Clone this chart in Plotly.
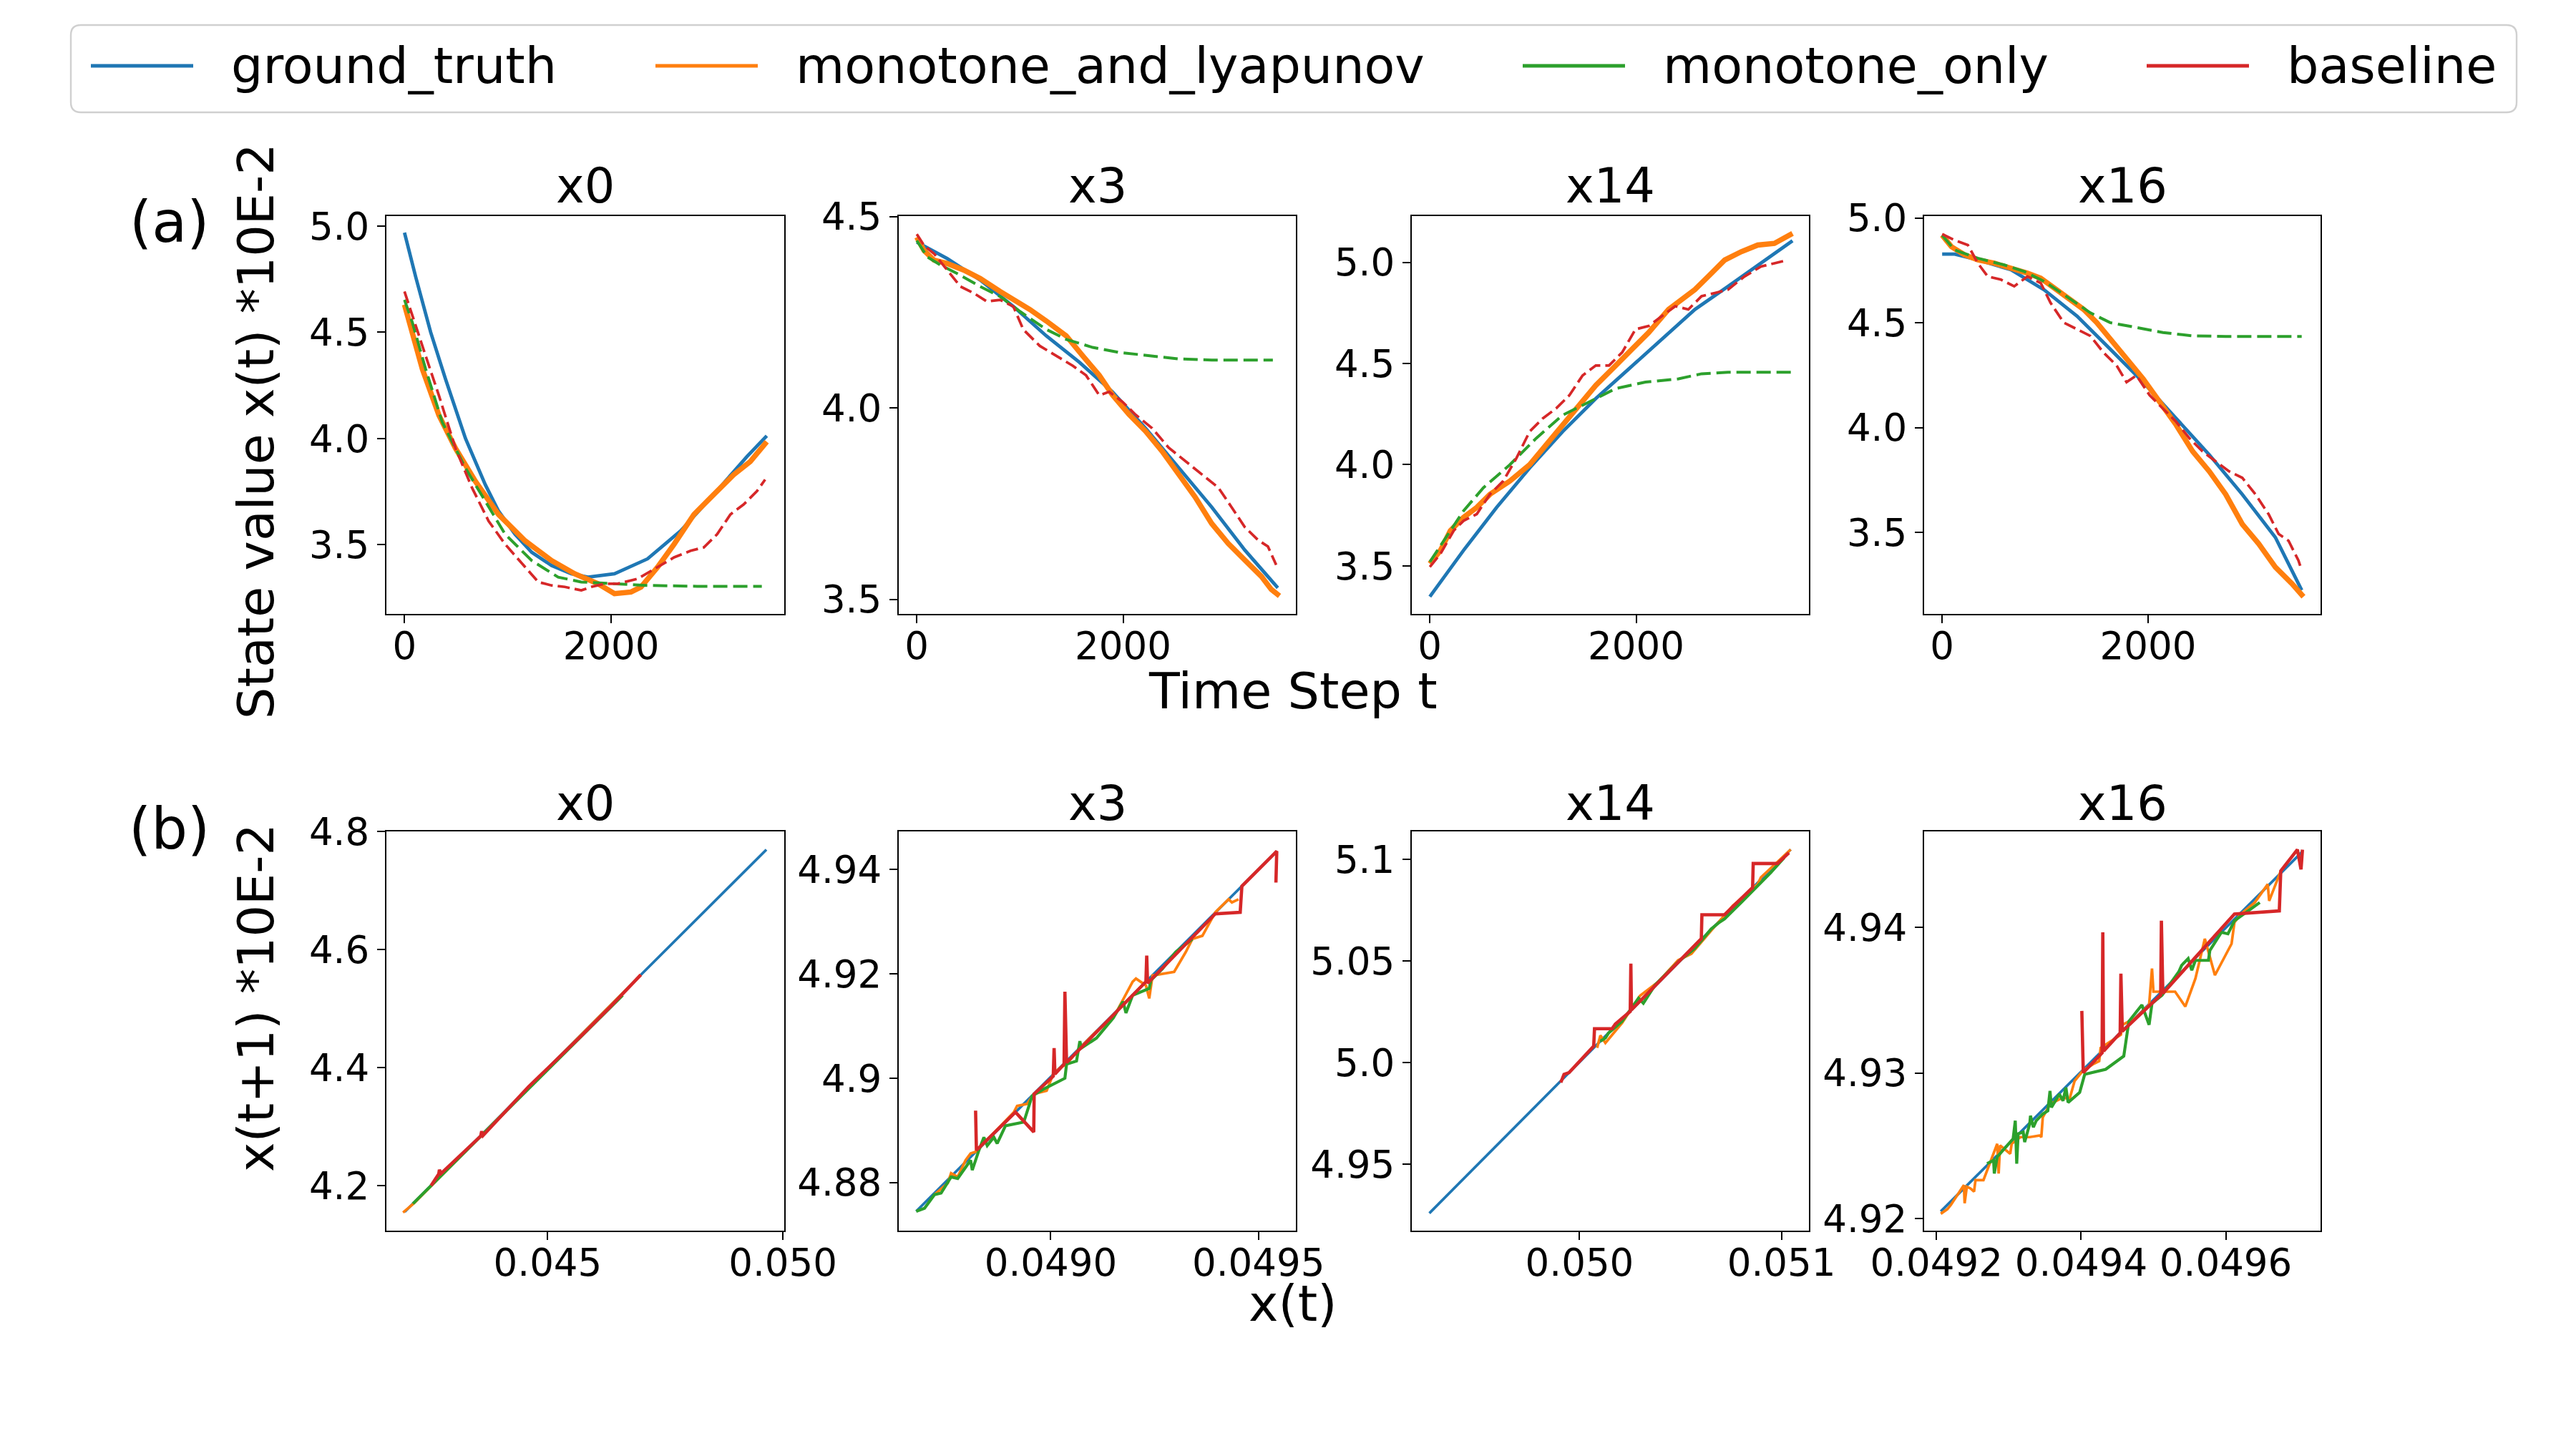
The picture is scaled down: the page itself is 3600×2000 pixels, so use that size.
import plotly.graph_objects as go

W, H = 3600, 2000

NAMES = ["ground_truth", "monotone_and_lyapunov", "monotone_only", "baseline"]
COLORS = ["#1f77b4", "#ff7f0e", "#2ca02c", "#d62728"]
PANELS = ["x0", "x3", "x14", "x16"]

# ---------------- (a) state value x(t) (*1e-2) against time step t ----------------
t_x0_truth = [0, 109, 253, 397, 590, 782, 910, 1070, 1231, 1423, 1615, 1776, 2032, 2352, 2673, 2993, 3314, 3506]
v_x0_truth = [4.969, 4.760, 4.501, 4.280, 4.001, 3.783, 3.659, 3.550, 3.465, 3.403, 3.364, 3.348, 3.364, 3.434, 3.566, 3.737, 3.915, 4.013]
t_x0_lyap = [0, 45, 173, 333, 494, 686, 910, 1167, 1423, 1647, 1872, 2032, 2192, 2288, 2449, 2609, 2801, 2993, 3186, 3346, 3506]
v_x0_lyap = [4.630, 4.545, 4.327, 4.110, 3.954, 3.799, 3.643, 3.519, 3.426, 3.364, 3.317, 3.270, 3.278, 3.301, 3.395, 3.503, 3.643, 3.737, 3.830, 3.892, 3.985]
t_x0_mono = [0, 77, 205, 365, 590, 782, 974, 1231, 1487, 1711, 2032, 2352, 2833, 3458]
v_x0_mono = [4.653, 4.545, 4.327, 4.078, 3.861, 3.706, 3.550, 3.426, 3.348, 3.325, 3.317, 3.309, 3.305, 3.305]
t_x0_base = [0, 77, 205, 333, 494, 654, 814, 974, 1167, 1295, 1423, 1551, 1711, 1808, 1936, 2064, 2256, 2449, 2609, 2769, 2897, 3026, 3154, 3282, 3410, 3490]
v_x0_base = [4.692, 4.576, 4.389, 4.203, 3.954, 3.768, 3.612, 3.503, 3.395, 3.325, 3.309, 3.302, 3.286, 3.302, 3.317, 3.317, 3.340, 3.395, 3.441, 3.472, 3.488, 3.550, 3.643, 3.690, 3.752, 3.807]

t_x3_truth = [0, 295, 615, 936, 1256, 1577, 1897, 2218, 2538, 2859, 3179, 3500]
v_x3_truth = [4.433, 4.390, 4.334, 4.265, 4.188, 4.119, 4.042, 3.947, 3.844, 3.741, 3.629, 3.530]
t_x3_lyap = [0, 71, 167, 295, 455, 615, 808, 968, 1096, 1256, 1449, 1609, 1769, 1897, 2058, 2218, 2378, 2538, 2699, 2859, 3019, 3179, 3340, 3436, 3516]
v_x3_lyap = [4.446, 4.411, 4.386, 4.377, 4.360, 4.338, 4.304, 4.278, 4.257, 4.227, 4.188, 4.136, 4.085, 4.034, 3.983, 3.939, 3.887, 3.827, 3.767, 3.698, 3.646, 3.603, 3.560, 3.526, 3.509]
t_x3_mono = [0, 103, 231, 391, 615, 808, 1000, 1256, 1449, 1705, 1961, 2218, 2538, 2859, 3452]
v_x3_mono = [4.437, 4.394, 4.373, 4.351, 4.317, 4.291, 4.252, 4.205, 4.179, 4.158, 4.145, 4.138, 4.128, 4.125, 4.125]
t_x3_base = [0, 71, 167, 295, 423, 551, 679, 808, 936, 1032, 1192, 1353, 1513, 1641, 1769, 1865, 1994, 2122, 2282, 2442, 2602, 2763, 2923, 3051, 3179, 3308, 3404, 3484]
v_x3_base = [4.454, 4.424, 4.403, 4.360, 4.317, 4.300, 4.278, 4.282, 4.265, 4.205, 4.162, 4.136, 4.110, 4.085, 4.033, 4.042, 4.016, 3.982, 3.947, 3.896, 3.861, 3.827, 3.792, 3.741, 3.689, 3.655, 3.638, 3.590]

t_x14_truth = [0, 327, 647, 968, 1288, 1609, 1929, 2250, 2570, 2891, 3211, 3516]
v_x14_truth = [3.348, 3.577, 3.789, 3.984, 4.164, 4.327, 4.473, 4.620, 4.767, 4.881, 4.995, 5.106]
t_x14_lyap = [0, 103, 199, 327, 455, 583, 776, 968, 1128, 1288, 1449, 1609, 1769, 1929, 2122, 2314, 2442, 2570, 2699, 2859, 3019, 3179, 3340, 3516]
v_x14_lyap = [3.511, 3.577, 3.674, 3.740, 3.789, 3.854, 3.919, 4.000, 4.098, 4.196, 4.294, 4.392, 4.473, 4.555, 4.653, 4.767, 4.816, 4.865, 4.930, 5.011, 5.052, 5.085, 5.093, 5.142]
t_x14_mono = [0, 135, 327, 519, 776, 1032, 1288, 1545, 1801, 2090, 2410, 2634, 2891, 3500]
v_x14_mono = [3.520, 3.625, 3.772, 3.886, 4.000, 4.131, 4.245, 4.310, 4.376, 4.408, 4.424, 4.449, 4.457, 4.457]
t_x14_base = [0, 103, 231, 327, 455, 583, 711, 840, 968, 1096, 1224, 1353, 1481, 1609, 1737, 1865, 1994, 2122, 2250, 2378, 2506, 2634, 2763, 2891, 3051, 3211, 3340, 3468]
v_x14_base = [3.495, 3.560, 3.674, 3.723, 3.756, 3.854, 3.919, 4.033, 4.164, 4.229, 4.278, 4.343, 4.441, 4.490, 4.490, 4.555, 4.669, 4.685, 4.734, 4.783, 4.767, 4.832, 4.848, 4.865, 4.930, 4.979, 4.995, 5.011]

t_x16_truth = [0, 122, 347, 668, 989, 1310, 1631, 1952, 2273, 2594, 2915, 3236, 3492]
v_x16_truth = [4.828, 4.828, 4.800, 4.753, 4.658, 4.532, 4.375, 4.217, 4.044, 3.871, 3.682, 3.477, 3.225]
t_x16_lyap = [0, 90, 218, 347, 507, 668, 828, 957, 1117, 1245, 1374, 1502, 1631, 1791, 1952, 2112, 2273, 2433, 2594, 2754, 2915, 3075, 3236, 3396, 3509]
v_x16_lyap = [4.918, 4.863, 4.824, 4.800, 4.784, 4.761, 4.737, 4.713, 4.658, 4.611, 4.564, 4.501, 4.422, 4.328, 4.233, 4.123, 4.013, 3.887, 3.792, 3.682, 3.540, 3.446, 3.335, 3.257, 3.194]
t_x16_mono = [0, 122, 347, 603, 796, 989, 1181, 1438, 1631, 1887, 2144, 2433, 2754, 3492]
v_x16_mono = [4.918, 4.847, 4.808, 4.776, 4.745, 4.698, 4.635, 4.548, 4.501, 4.477, 4.454, 4.438, 4.435, 4.435]
t_x16_base = [0, 122, 250, 347, 443, 571, 700, 828, 957, 1053, 1181, 1310, 1438, 1566, 1695, 1791, 1887, 2016, 2144, 2273, 2401, 2529, 2658, 2786, 2915, 3043, 3171, 3268, 3364, 3460, 3492]
v_x16_base = [4.923, 4.894, 4.871, 4.784, 4.721, 4.706, 4.674, 4.721, 4.690, 4.595, 4.501, 4.469, 4.438, 4.359, 4.296, 4.217, 4.249, 4.154, 4.091, 4.028, 3.950, 3.887, 3.839, 3.792, 3.761, 3.682, 3.587, 3.493, 3.461, 3.367, 3.320]

# ---------------- (b) x(t+1) (*1e-2) against x(t) ----------------
p_x0_truth = [0.04196, 0.04698, 0.04965]
q_x0_truth = [4.1554, 4.5572, 4.7693]
p_x0_lyap = [0.041924, 0.04217, 0.04698]
q_x0_lyap = [4.1543, 4.1710, 4.5572]
p_x0_mono = [0.042135, 0.042521, 0.043575, 0.045506, 0.046594]
q_x0_mono = [4.1694, 4.2000, 4.2838, 4.4372, 4.5226]
p_x0_base = [0.042521, 0.042683, 0.042697, 0.042732, 0.043575, 0.043596, 0.043624, 0.044593, 0.045716, 0.046313, 0.04698]
q_x0_base = [4.2000, 4.2196, 4.2268, 4.2205, 4.2838, 4.2921, 4.2849, 4.3675, 4.4540, 4.5014, 4.5572]

p_x3_truth = [0.048676, 0.049544]
q_x3_truth = [4.8745, 4.9435]
p_x3_lyap = [0.048720, 0.048752, 0.048760, 0.048776, 0.048795, 0.048807, 0.048819, 0.048911, 0.048919, 0.048943, 0.048959,
             0.048990, 0.049006, 0.049022, 0.049038, 0.049070, 0.049110, 0.049150, 0.049197, 0.049205, 0.049229, 0.049237,
             0.049245, 0.049297, 0.049325, 0.049341, 0.049365, 0.049396, 0.049428, 0.049436, 0.049452]
q_x3_lyap = [4.8777, 4.8799, 4.8818, 4.8811, 4.8843, 4.8856, 4.8859, 4.8935, 4.8947, 4.8951, 4.8970,
             4.8976, 4.9008, 4.9020, 4.9027, 4.9058, 4.9090, 4.9115, 4.9185, 4.9191, 4.9178, 4.9153,
             4.9197, 4.9204, 4.9242, 4.9267, 4.9273, 4.9318, 4.9343, 4.9337, 4.9343]
p_x3_mono = [0.048676, 0.048696, 0.048720, 0.048736, 0.048760, 0.048776, 0.048807, 0.048811, 0.048827, 0.048839, 0.048847,
             0.048863, 0.048871, 0.048891, 0.048935, 0.048955, 0.048982, 0.049034, 0.049038, 0.049062, 0.049070, 0.049074,
             0.049110, 0.049150, 0.049174, 0.049181, 0.049197, 0.049237, 0.049241, 0.049269, 0.049301, 0.049341]
q_x3_mono = [4.8745, 4.8751, 4.8777, 4.8780, 4.8811, 4.8808, 4.8843, 4.8824, 4.8862, 4.8887, 4.8871,
             4.8887, 4.8875, 4.8909, 4.8916, 4.8966, 4.8979, 4.9000, 4.9027, 4.9033, 4.9071, 4.9058,
             4.9077, 4.9115, 4.9147, 4.9125, 4.9159, 4.9172, 4.9188, 4.9210, 4.9242, 4.9267]
p_x3_base = [0.048819, 0.048821, 0.048915, 0.048959, 0.048960, 0.049006, 0.049008, 0.049010, 0.049032, 0.049034,
             0.049038, 0.049229, 0.049231, 0.049233, 0.049396, 0.049456, 0.049460, 0.049544, 0.049542]
q_x3_base = [4.8938, 4.8862, 4.8935, 4.8897, 4.8970, 4.9004, 4.9058, 4.9008, 4.9027, 4.9166,
             4.9030, 4.9185, 4.9235, 4.9182, 4.9315, 4.9318, 4.9368, 4.9435, 4.9375]

p_x14_truth = [0.049256, 0.049907, 0.051046]
q_x14_truth = [4.9259, 4.9910, 5.1049]
p_x14_lyap = [0.050087, 0.050103, 0.050128, 0.050210, 0.050300, 0.050390, 0.050488, 0.050554, 0.050652, 0.050759,
              0.050882, 0.050898, 0.051046]
q_x14_lyap = [5.0073, 5.0134, 5.0097, 5.0195, 5.0330, 5.0398, 5.0504, 5.0536, 5.0650, 5.0772,
              5.0878, 5.0911, 5.1049]
p_x14_mono = [0.050103, 0.050128, 0.050144, 0.050210, 0.050292, 0.050316, 0.050374, 0.050488, 0.050570, 0.050652,
              0.050693, 0.050718, 0.050800, 0.050882, 0.050898, 0.050947, 0.051013]
q_x14_mono = [5.0105, 5.0121, 5.0146, 5.0203, 5.0317, 5.0292, 5.0382, 5.0496, 5.0561, 5.0658,
              5.0691, 5.0707, 5.0788, 5.0870, 5.0886, 5.0935, 5.1008]
p_x14_base = [0.049907, 0.049923, 0.049948, 0.050021, 0.050070, 0.050074, 0.050161, 0.050177, 0.050251, 0.050254,
              0.050257, 0.050603, 0.050606, 0.050718, 0.050857, 0.050860, 0.050980, 0.051037]
q_x14_base = [4.9902, 4.9942, 4.9951, 5.0032, 5.0081, 5.0167, 5.0167, 5.0190, 5.0252, 5.0487,
              5.0260, 5.0610, 5.0728, 5.0728, 5.0862, 5.0980, 5.0980, 5.1033]

p_x16_truth = [0.049206, 0.049706]
q_x16_truth = [4.9205, 4.9452]
p_x16_lyap = [0.049206, 0.049215, 0.049220, 0.049238, 0.049239, 0.049242, 0.049247, 0.049252, 0.049254, 0.049265,
              0.049284, 0.049286, 0.049288, 0.049302, 0.049304, 0.049316, 0.049329, 0.049343, 0.049345, 0.049347,
              0.049357, 0.049366, 0.049375, 0.049384, 0.049391, 0.049402, 0.049416, 0.049425, 0.049427, 0.049448,
              0.049455, 0.049457, 0.049475, 0.049494, 0.049498, 0.049500, 0.049512, 0.049530, 0.049544, 0.049558,
              0.049571, 0.049576, 0.049585, 0.049608, 0.049612, 0.049621, 0.049640, 0.049658, 0.049660, 0.049676]
q_x16_lyap = [4.92034, 4.92065, 4.92095, 4.92231, 4.92106, 4.92220, 4.92208, 4.92186, 4.92265, 4.92265,
              4.92514, 4.92310, 4.92503, 4.92446, 4.92514, 4.92560, 4.92560, 4.92571, 4.92560, 4.92696,
              4.92787, 4.92809, 4.92832, 4.92821, 4.92945, 4.93013, 4.93059, 4.93081, 4.93172, 4.93240,
              4.93263, 4.93331, 4.93376, 4.93467, 4.93717, 4.93558, 4.93558, 4.93558, 4.93456, 4.93648,
              4.93921, 4.93830, 4.93671, 4.93887, 4.94034, 4.94091, 4.94170, 4.94295, 4.94181, 4.94386]
p_x16_mono = [0.049270, 0.049279, 0.049280, 0.049284, 0.049306, 0.049309, 0.049311, 0.049313, 0.049320, 0.049322,
              0.049329, 0.049330, 0.049334, 0.049338, 0.049347, 0.049354, 0.049357, 0.049359, 0.049370, 0.049375,
              0.049379, 0.049382, 0.049398, 0.049405, 0.049434, 0.049459, 0.049466, 0.049484, 0.049494, 0.049498,
              0.049512, 0.049535, 0.049539, 0.049548, 0.049553, 0.049558, 0.049576, 0.049578, 0.049594, 0.049603,
              0.049612, 0.049647]
q_x16_mono = [4.92378, 4.92401, 4.92310, 4.92424, 4.92548, 4.92673, 4.92378, 4.92583, 4.92594, 4.92526,
              4.92651, 4.92707, 4.92628, 4.92673, 4.92719, 4.92741, 4.92877, 4.92764, 4.92855, 4.92809,
              4.92900, 4.92798, 4.92866, 4.92991, 4.93025, 4.93116, 4.93354, 4.93467, 4.93331, 4.93478,
              4.93535, 4.93694, 4.93739, 4.93785, 4.93705, 4.93773, 4.93773, 4.93841, 4.93966, 4.93955,
              4.94045, 4.94170]
p_x16_base = [0.049401, 0.049403, 0.049429, 0.049430, 0.049431, 0.049454, 0.049455, 0.049457, 0.049510, 0.049511,
              0.049513, 0.049612, 0.049674, 0.049676, 0.049699, 0.049704, 0.049706]
q_x16_base = [4.93426, 4.93002, 4.93138, 4.93966, 4.93150, 4.93274, 4.93682, 4.93286, 4.93535, 4.94045,
              4.93546, 4.94091, 4.94113, 4.94386, 4.94533, 4.94397, 4.94533]

# tick labels (as matplotlib printed them)
a_ytick_vals = [[3.5, 4.0, 4.5, 5.0], [3.5, 4.0, 4.5], [3.5, 4.0, 4.5, 5.0], [3.5, 4.0, 4.5, 5.0]]
a_xtick_vals = [0, 2000]
b_xtick_vals = [[0.045, 0.050], [0.0490, 0.0495], [0.050, 0.051], [0.0492, 0.0494, 0.0496]]
b_xtick_text = [["0.045", "0.050"], ["0.0490", "0.0495"], ["0.050", "0.051"], ["0.0492", "0.0494", "0.0496"]]
b_ytick_vals = [[4.2, 4.4, 4.6, 4.8], [4.88, 4.90, 4.92, 4.94], [4.95, 5.0, 5.05, 5.1], [4.92, 4.93, 4.94]]
b_ytick_text = [["4.2", "4.4", "4.6", "4.8"], ["4.88", "4.9", "4.92", "4.94"], ["4.95", "5.0", "5.05", "5.1"], ["4.92", "4.93", "4.94"]]

row_a = [
    [(t_x0_truth, v_x0_truth), (t_x0_lyap, v_x0_lyap), (t_x0_mono, v_x0_mono), (t_x0_base, v_x0_base)],
    [(t_x3_truth, v_x3_truth), (t_x3_lyap, v_x3_lyap), (t_x3_mono, v_x3_mono), (t_x3_base, v_x3_base)],
    [(t_x14_truth, v_x14_truth), (t_x14_lyap, v_x14_lyap), (t_x14_mono, v_x14_mono), (t_x14_base, v_x14_base)],
    [(t_x16_truth, v_x16_truth), (t_x16_lyap, v_x16_lyap), (t_x16_mono, v_x16_mono), (t_x16_base, v_x16_base)],
]
row_b = [
    [(p_x0_truth, q_x0_truth), (p_x0_lyap, q_x0_lyap), (p_x0_mono, q_x0_mono), (p_x0_base, q_x0_base)],
    [(p_x3_truth, q_x3_truth), (p_x3_lyap, q_x3_lyap), (p_x3_mono, q_x3_mono), (p_x3_base, q_x3_base)],
    [(p_x14_truth, q_x14_truth), (p_x14_lyap, q_x14_lyap), (p_x14_mono, q_x14_mono), (p_x14_base, q_x14_base)],
    [(p_x16_truth, q_x16_truth), (p_x16_lyap, q_x16_lyap), (p_x16_mono, q_x16_mono), (p_x16_base, q_x16_base)],
]

# layout in pixels of the 3600x2000 screenshot
COLS = [(540, 1096), (1256, 1811), (1973, 2528), (2689, 3243)]
ROW_A = (302, 858)
ROW_B = (1162, 1720)
a_xrange = [-175, 3675]
a_yranges = [[3.175, 5.047], [3.462, 4.501], [3.263, 5.228], [3.112, 5.009]]
b_xranges = [[0.04157, 0.05003], [0.048634, 0.04959], [0.049169, 0.051136], [0.049183, 0.049731]]
b_yranges = [[4.1236, 4.8003], [4.8708, 4.9473], [4.9173, 5.1138], [4.91918, 4.94658]]

a_widths = [4.8, 7.4, 4.0, 3.7]
a_dashes = ["solid", "solid", "20px,8px", "17px,7px"]
b_widths = [3.7, 3.7, 4.2, 4.6]

FONT = "DejaVu Sans"
TICK_SIZE = 53
TITLE_SIZE = 67
LABEL_SIZE = 70

PAGE_PAD = 8  # the page body margin shifts the figure by this many pixels


def fx(p):
    return (p - PAGE_PAD) / W


def fy(p):
    return 1 - (p - PAGE_PAD) / H


fig = go.Figure()

for i in range(4):
    for k in range(4):
        xs, ys = row_a[i][k]
        fig.add_trace(go.Scatter(
            x=xs, y=ys, mode="lines", name=NAMES[k], showlegend=False,
            line=dict(color=COLORS[k], width=a_widths[k], dash=a_dashes[k]),
            xaxis="x" if i == 0 else "x%d" % (i + 1),
            yaxis="y" if i == 0 else "y%d" % (i + 1),
        ))
    for k in range(4):
        xs, ys = row_b[i][k]
        fig.add_trace(go.Scatter(
            x=xs, y=ys, mode="lines", name=NAMES[k], showlegend=False,
            line=dict(color=COLORS[k], width=b_widths[k]),
            xaxis="x%d" % (i + 5), yaxis="y%d" % (i + 5),
        ))

axis_common = dict(
    showgrid=False, zeroline=False, showline=True, mirror=True, automargin=False,
    linecolor="black", linewidth=2.4, ticks="outside", ticklen=11,
    tickwidth=2.4, tickcolor="black",
    tickfont=dict(family=FONT, size=TICK_SIZE, color="black"),
)
x_common = dict(axis_common, ticklabelstandoff=-14)

layout_axes = {}
annotations = []
for i in range(4):
    c0, c1 = COLS[i]
    na, nb = i + 1, i + 5
    xa = "xaxis" if na == 1 else "xaxis%d" % na
    ya = "yaxis" if na == 1 else "yaxis%d" % na
    layout_axes[xa] = dict(x_common, domain=[fx(c0), fx(c1)], range=a_xrange,
                           tickvals=a_xtick_vals, ticktext=[str(v) for v in a_xtick_vals],
                           anchor="y" if na == 1 else "y%d" % na)
    layout_axes[ya] = dict(axis_common, domain=[fy(ROW_A[1]), fy(ROW_A[0])], range=a_yranges[i],
                           tickvals=a_ytick_vals[i], ticktext=["%.1f" % v for v in a_ytick_vals[i]],
                           anchor="x" if na == 1 else "x%d" % na)
    layout_axes["xaxis%d" % nb] = dict(x_common, domain=[fx(c0), fx(c1)], range=b_xranges[i],
                                       tickvals=b_xtick_vals[i], ticktext=b_xtick_text[i],
                                       anchor="y%d" % nb)
    layout_axes["yaxis%d" % nb] = dict(axis_common, domain=[fy(ROW_B[1]), fy(ROW_B[0])], range=b_yranges[i],
                                       tickvals=b_ytick_vals[i], ticktext=b_ytick_text[i],
                                       anchor="x%d" % nb)
    # panel titles
    for yc in (260, 1123):
        annotations.append(dict(
            text=PANELS[i], x=fx((c0 + c1) / 2), y=fy(yc), xref="paper", yref="paper",
            xanchor="center", yanchor="middle", showarrow=False,
            font=dict(family=FONT, size=TITLE_SIZE, color="black"),
        ))

# axis labels and row tags
labels = [
    ("Time Step t", 1807, 966, LABEL_SIZE, 0),
    ("x(t)", 1807, 1822, LABEL_SIZE, 0),
    ("State value x(t) *10E-2", 358, 603, LABEL_SIZE, -90),
    ("x(t+1) *10E-2", 358, 1395, LABEL_SIZE, -90),
    ("(a)", 237, 310, 80, 0),
    ("(b)", 237, 1158, 80, 0),
]
for text, x, y, size, ang in labels:
    annotations.append(dict(
        text=text, x=fx(x), y=fy(y), xref="paper", yref="paper",
        xanchor="center", yanchor="middle", showarrow=False, textangle=ang,
        font=dict(family=FONT, size=size, color="black"),
    ))

# legend drawn by hand so the line samples are as long as in the original
LX0, LY0, LX1, LY1, R = 99, 35, 3517, 157, 14
box_path = (
    f"M {fx(LX0 + R)},{fy(LY0)} L {fx(LX1 - R)},{fy(LY0)} Q {fx(LX1)},{fy(LY0)} {fx(LX1)},{fy(LY0 + R)} "
    f"L {fx(LX1)},{fy(LY1 - R)} Q {fx(LX1)},{fy(LY1)} {fx(LX1 - R)},{fy(LY1)} "
    f"L {fx(LX0 + R)},{fy(LY1)} Q {fx(LX0)},{fy(LY1)} {fx(LX0)},{fy(LY1 - R)} "
    f"L {fx(LX0)},{fy(LY0 + R)} Q {fx(LX0)},{fy(LY0)} {fx(LX0 + R)},{fy(LY0)} Z"
)
shapes = [dict(type="path", path=box_path, xref="paper", yref="paper",
               line=dict(color="#d0d0d0", width=2.4), fillcolor="rgba(255,255,255,0.8)")]
legend_x = [127, 916, 2128, 3000]
legend_y = 92
for k in range(4):
    shapes.append(dict(type="line", xref="paper", yref="paper",
                       x0=fx(legend_x[k]), x1=fx(legend_x[k] + 143), y0=fy(legend_y), y1=fy(legend_y),
                       line=dict(color=COLORS[k], width=5)))
    annotations.append(dict(
        text=NAMES[k], x=fx(legend_x[k] + 194), y=fy(legend_y), xref="paper", yref="paper",
        xanchor="left", yanchor="middle", showarrow=False,
        font=dict(family=FONT, size=LABEL_SIZE, color="black"),
    ))

fig.update_layout(
    width=W, height=H,
    margin=dict(l=0, r=0, t=0, b=0, autoexpand=False),
    paper_bgcolor="white", plot_bgcolor="white",
    showlegend=False,
    annotations=annotations,
    shapes=shapes,
    **layout_axes,
)

fig.write_html("out.html")
